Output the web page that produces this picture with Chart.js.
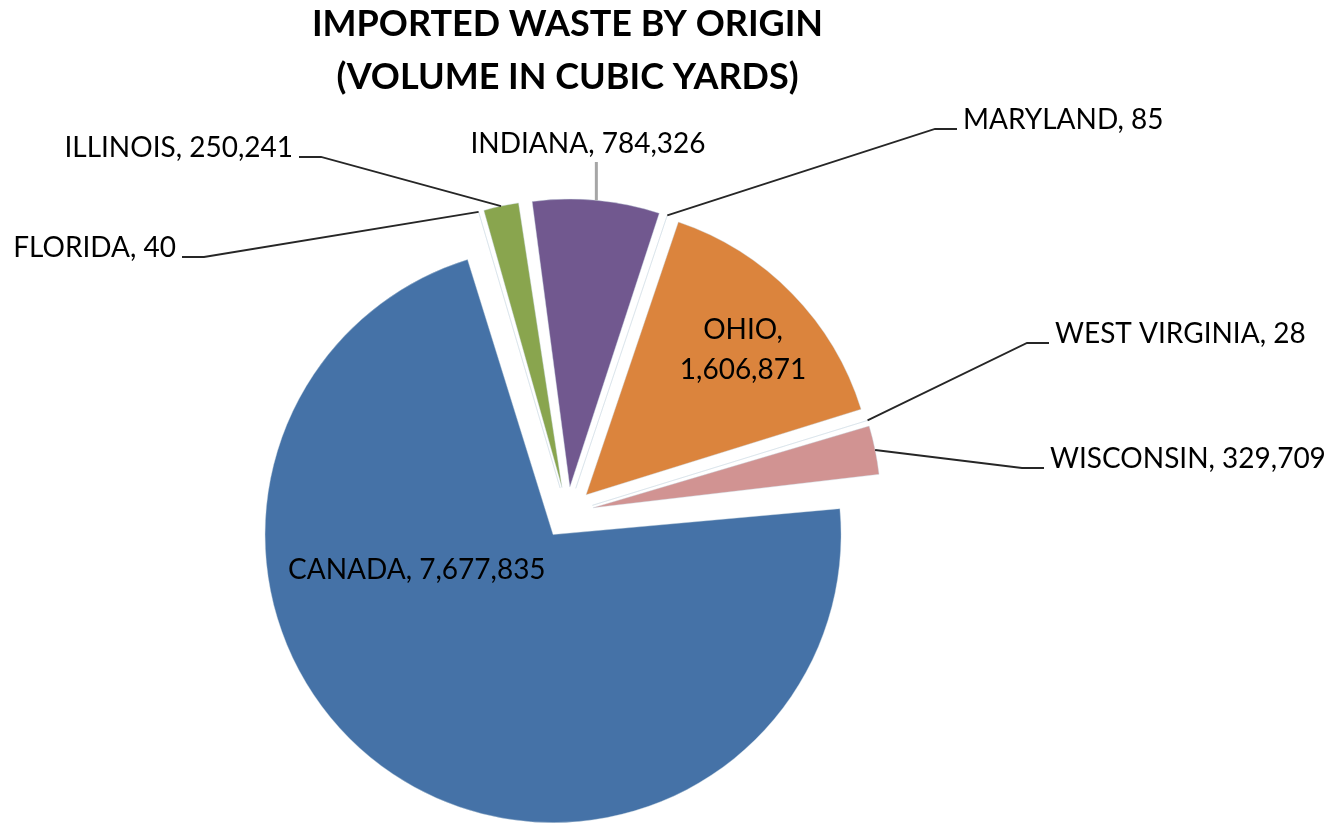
<!DOCTYPE html>
<html>
<head>
<meta charset="utf-8">
<script src="https://cdn.jsdelivr.net/npm/chart.js@4"></script>
<style>
  html, body { margin: 0; padding: 0; background: #fff; }
  #wrap { width: 1336px; height: 823px; }
</style>
</head>
<body>
<div id="wrap"><canvas id="origen"></canvas></div>
<script>
const origins = ["CANADA", "FLORIDA", "ILLINOIS", "INDIANA", "MARYLAND", "OHIO", "WEST VIRGINIA", "WISCONSIN"];
const cubicYards = [7677835, 40, 250241, 784326, 85, 1606871, 28, 329709];
const sliceColors = ["#4572A7", "#AA4643", "#89A54E", "#71588F", "#4198AF", "#DB843D", "#93A9CF", "#D19392"];
const titleLines = ["IMPORTED WASTE BY ORIGIN", "(VOLUME IN CUBIC YARDS)"];

const PIE_RADIUS = 288;
const EXPLODE = 26; // every slice pulled out by this many px

// where each data label sits (text anchor + baseline), like a hand-placed Excel label
const callouts = {
  "CANADA": { x: 288, y: 579, align: "left", inside: true },
  "FLORIDA": { x: 176, y: 257, align: "right" },
  "ILLINOIS": { x: 293, y: 157, align: "right" },
  "INDIANA": { x: 588, y: 153, align: "center" },
  "MARYLAND": { x: 963, y: 129, align: "left" },
  "OHIO": { x: 743, y: 339, align: "center", inside: true, wrap: true },
  "WEST VIRGINIA": { x: 1055, y: 343, align: "left" },
  "WISCONSIN": { x: 1050, y: 468, align: "left" },
};

Chart.defaults.font.family = "Lato";

const calloutPlugin = {
  id: "callouts",
  beforeDatasetDraw(chart, args) {
    // Chart.js grows exploded arcs by offset/4 * (1 - sin(angle)); undo it so all slices share one radius
    args.meta.data.forEach((arc) => {
      const fix = 1 - Math.sin(Math.min(Math.PI, arc.circumference));
      arc.outerRadius = PIE_RADIUS - EXPLODE * fix;
    });
  },
  afterDatasetsDraw(chart) {
    const ctx = chart.ctx;
    const arcs = chart.getDatasetMeta(0).data;
    ctx.save();
    ctx.font = "28px Lato";
    ctx.fillStyle = "#000";
    ctx.strokeStyle = "#262626";
    ctx.lineWidth = 1.8;
    ctx.textBaseline = "alphabetic";
    arcs.forEach((arc, i) => {
      const place = callouts[origins[i]];
      const value = cubicYards[i].toLocaleString("en-US");
      ctx.textAlign = place.align;
      if (place.wrap) {
        ctx.fillText(origins[i] + ",", place.x, place.y);
        ctx.fillText(value, place.x, place.y + 40);
      } else {
        ctx.fillText(origins[i] + ", " + value, place.x, place.y);
      }
      if (place.inside) return;

      // leader line from the slice edge to the label
      const mid = (arc.startAngle + arc.endAngle) / 2;
      const edgeX = arc.x + Math.cos(mid) * (PIE_RADIUS + EXPLODE);
      const edgeY = arc.y + Math.sin(mid) * (PIE_RADIUS + EXPLODE);
      ctx.beginPath();
      if (place.align === "center") {
        ctx.strokeStyle = "#a6a6a6";
        ctx.lineWidth = 3;
        ctx.moveTo(edgeX, place.y + 9);
        ctx.lineTo(edgeX, edgeY);
      } else {
        ctx.strokeStyle = "#262626";
        ctx.lineWidth = 1.8;
        const dir = place.align === "right" ? 1 : -1;
        ctx.moveTo(place.x + dir * 6, place.y);
        ctx.lineTo(place.x + dir * 28, place.y);
        ctx.lineTo(edgeX, edgeY);
      }
      ctx.stroke();
    });
    ctx.restore();
  },
};

new Chart(document.getElementById("origen"), {
  type: "pie",
  data: {
    labels: origins,
    datasets: [
      {
        data: cubicYards,
        backgroundColor: sliceColors,
        borderColor: "rgba(200, 215, 225, 0.8)",
        borderWidth: 0.5,
        offset: EXPLODE * 4,
        hoverOffset: EXPLODE * 4,
      },
    ],
  },
  options: {
    responsive: true,
    maintainAspectRatio: false,
    animation: false,
    events: [],
    rotation: 84,
    radius: PIE_RADIUS,
    layout: {
      padding: { left: 0, right: 201, top: 0, bottom: 0 },
    },
    plugins: {
      legend: { display: false },
      tooltip: { enabled: false },
      title: {
        display: true,
        text: titleLines,
        color: "#000",
        font: { family: "Lato", weight: "bold", size: 36, lineHeight: "53px" },
        padding: { top: -2, bottom: 99 },
      },
    },
  },
  plugins: [calloutPlugin],
});
</script>
</body>
</html>
